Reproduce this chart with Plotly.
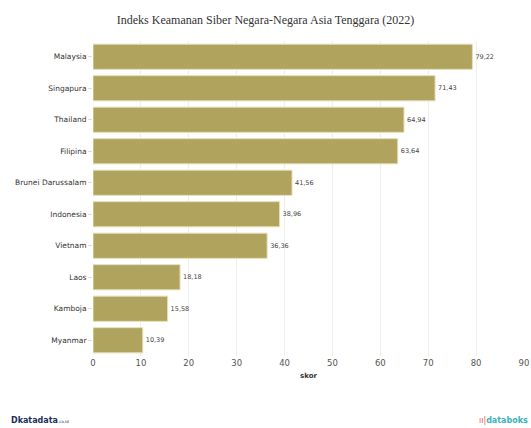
import plotly.graph_objects as go

countries = ["Malaysia", "Singapura", "Thailand", "Filipina", "Brunei Darussalam",
             "Indonesia", "Vietnam", "Laos", "Kamboja", "Myanmar"]
scores = [79.22, 71.43, 64.94, 63.64, 41.56, 38.96, 36.36, 18.18, 15.58, 10.39]
score_labels = ["79,22", "71,43", "64,94", "63,64", "41,56", "38,96", "36,36", "18,18", "15,58", "10,39"]
x_ticks = [0, 10, 20, 30, 40, 50, 60, 70, 80, 90]

fig = go.Figure(go.Bar(
    x=scores, y=countries, orientation="h",
    marker=dict(color="#B0A35E", line=dict(color="#E6DFB8", width=1)),
    text=score_labels, textposition="outside",
    textfont=dict(family="DejaVu Sans", size=6.5, color="#444"),
    cliponaxis=False,
))

fig.update_layout(
    width=531, height=428,
    margin=dict(l=93, r=7, t=41, b=72),
    paper_bgcolor="white", plot_bgcolor="white",
    bargap=0.2,
    showlegend=False,
    title=dict(text="Indeks Keamanan Siber Negara-Negara Asia Tenggara (2022)",
               x=0.5, xanchor="center", y=0.953, yanchor="middle", automargin=False,
               font=dict(family="Liberation Serif", size=12, color="#333")),
    xaxis=dict(range=[0, 90], tickvals=x_ticks, showgrid=True, gridcolor="#EEEEEE",
               zeroline=False, showline=False, automargin=False,
               tickfont=dict(family="DejaVu Sans", size=8.5, color="#555"),
               title=dict(text="<b>skor</b>", font=dict(family="DejaVu Sans", size=7, color="#333"),
                          standoff=6)),
    yaxis=dict(categoryorder="array", categoryarray=countries[::-1],
               ticks="outside", ticklen=4, tickcolor="#DDD", automargin=False,
               tickfont=dict(family="DejaVu Sans", size=7.5, color="#333"),
               showgrid=False, showline=False),
    annotations=[
        dict(text="<b><span style='color:#1a2f5c'>D</span>katadata</b><span style='font-size:4px'>.co.id</span>",
             x=0.0, y=0.0, xref="paper", yref="paper", xanchor="left", yanchor="bottom",
             showarrow=False, font=dict(family="DejaVu Sans", size=8, color="#1a2f5c"),
             xshift=-84, yshift=-71),
        dict(text="<span style='color:#e8604c'>ıı|</span><b>databoks</b>",
             x=1.0, y=0.0, xref="paper", yref="paper", xanchor="right", yanchor="bottom",
             showarrow=False, font=dict(family="DejaVu Sans", size=8, color="#3bb3b8"),
             xshift=6, yshift=-71),
    ],
)

fig.write_html("out.html", config={"displayModeBar": False},
               post_script="document.body.style.margin='0';document.body.style.overflow='hidden';")
